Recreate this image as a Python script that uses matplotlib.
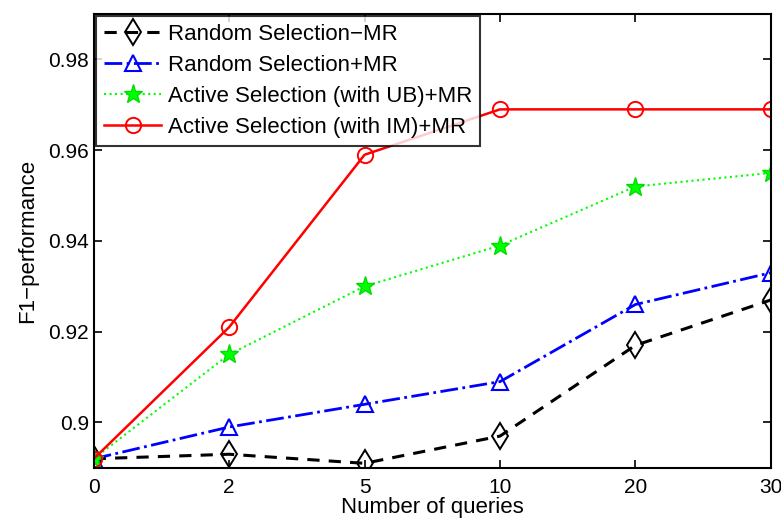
import matplotlib.pyplot as plt
import numpy as np

plt.rcParams['font.family'] = ['Liberation Sans', 'DejaVu Sans']

queries = ['0', '2', '5', '10', '20', '30']
random_mr = [0.892, 0.893, 0.891, 0.897, 0.917, 0.927]
random_plus_mr = [0.892, 0.899, 0.904, 0.909, 0.926, 0.933]
active_ub_mr = [0.892, 0.915, 0.930, 0.939, 0.952, 0.955]
active_im_mr = [0.892, 0.921, 0.959, 0.969, 0.969, 0.969]
yticks = [0.90, 0.92, 0.94, 0.96, 0.98]
ytick_labels = ['0.9', '0.92', '0.94', '0.96', '0.98']

x = np.arange(len(queries))

fig = plt.figure(figsize=(7.81, 5.21), dpi=100)
ax = fig.add_axes([0.120, 0.102, 0.867, 0.871])

ax.plot(x, random_mr, color='black', linestyle='--', linewidth=2.2,
        marker='d', markersize=13, markerfacecolor='none', markeredgewidth=1.4,
        dashes=(4, 3), label='Random Selection\u2212MR')
ax.plot(x, random_plus_mr, color='blue', linestyle='-.', linewidth=2,
        marker='^', markersize=12, markerfacecolor='none', markeredgewidth=1.5,
        label='Random Selection+MR')
ax.plot(x, active_ub_mr, color='#00ff00', linestyle=':', linewidth=1.5,
        marker='*', markersize=14, markeredgecolor='#00dd00',
        label='Active Selection (with UB)+MR')
ax.plot(x, active_im_mr, color='red', linestyle='-', linewidth=1.8,
        marker='o', markersize=11, markerfacecolor='none', markeredgewidth=1.4,
        label='Active Selection (with IM)+MR')

ax.set_xlim(0, 5)
ax.set_ylim(0.89, 0.99)
ax.set_xticks(x)
ax.set_xticklabels(queries)
ax.set_yticks(yticks)
ax.set_yticklabels(ytick_labels)
ax.tick_params(direction='in', top=True, right=True, labelsize=15, length=6, width=1.2)
ax.tick_params(axis='x', pad=7)
for s in ax.spines.values():
    s.set_linewidth(1.5)

ax.set_xlabel('Number of queries', fontsize=16, labelpad=0)
ax.set_ylabel('F1\u2212performance', fontsize=16, labelpad=7)

leg = ax.legend(loc='upper left', fontsize=16, handlelength=2.6, frameon=True,
                fancybox=False, edgecolor='black', borderaxespad=0.1,
                borderpad=0.35, labelspacing=0.45, handletextpad=0.3)
leg.get_frame().set_linewidth(1.5)

plt.savefig('out.png', dpi=100)
